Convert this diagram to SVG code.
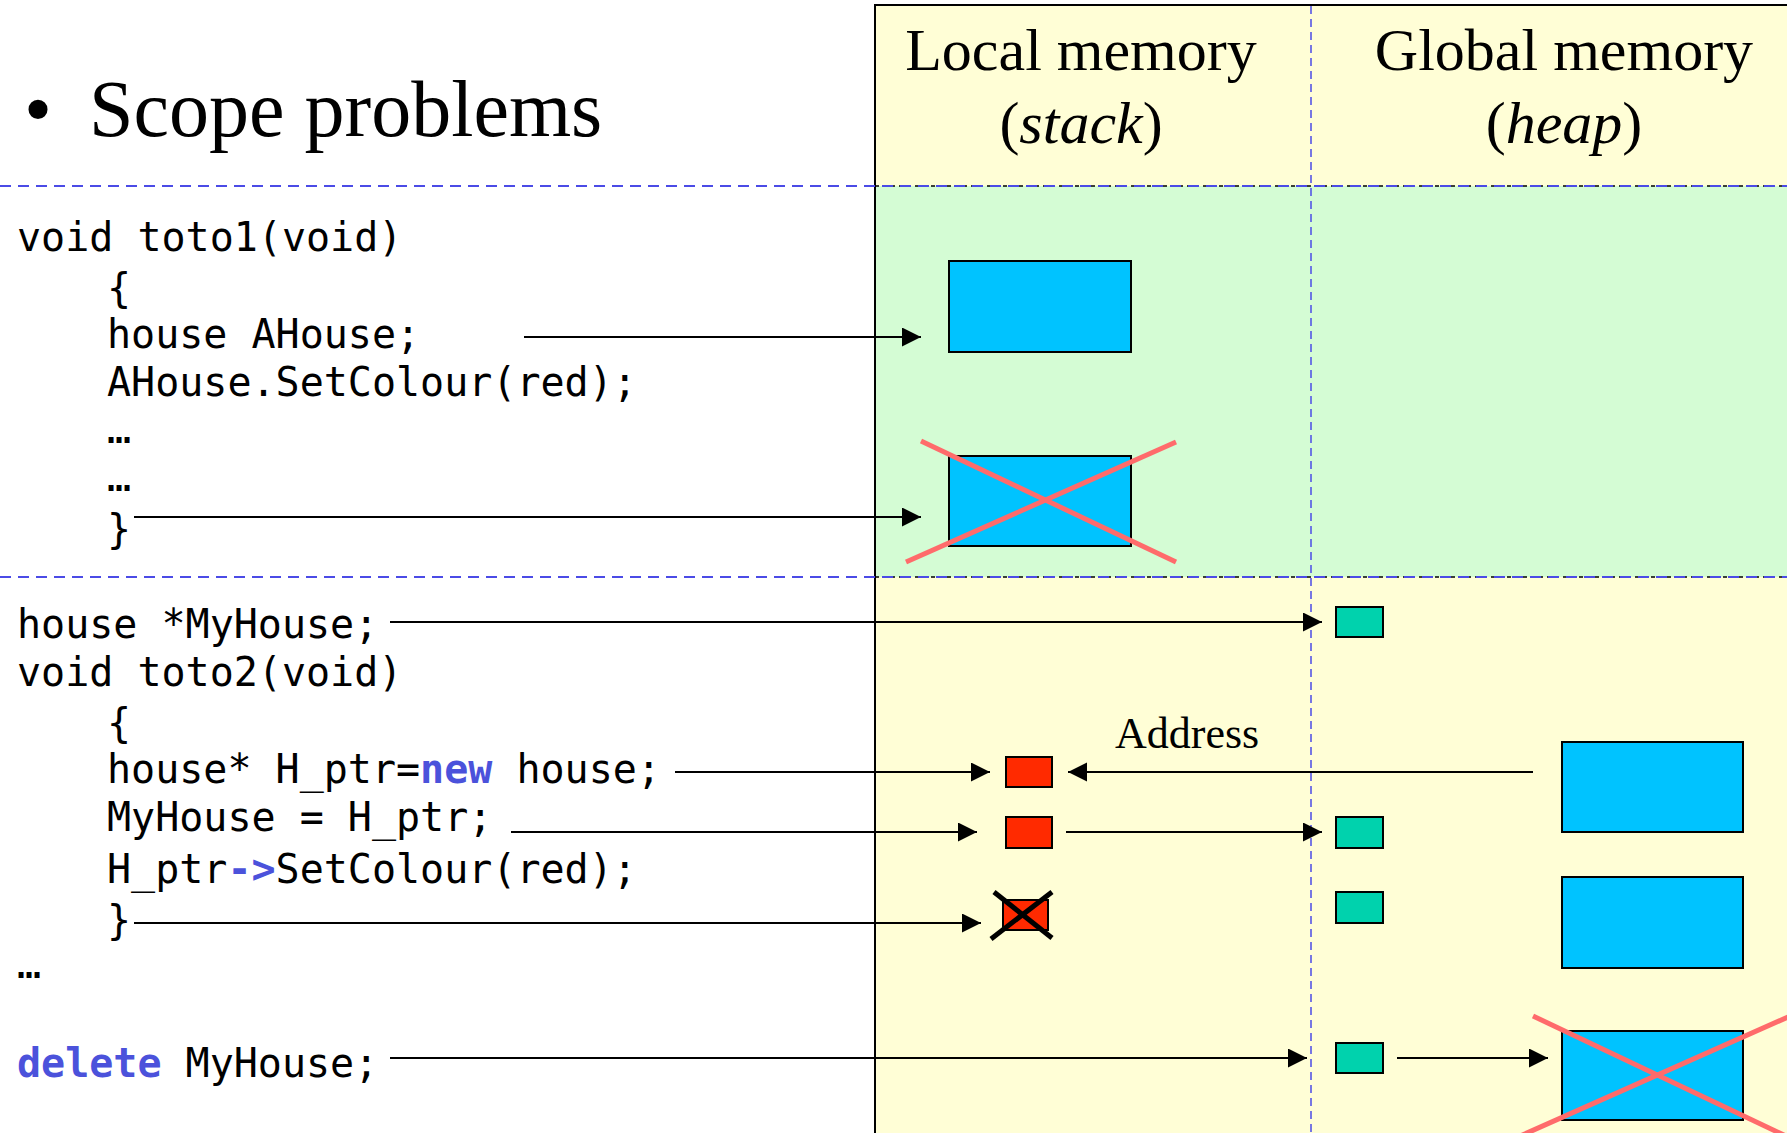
<svg xmlns="http://www.w3.org/2000/svg" width="1787" height="1133" viewBox="0 0 1787 1133">
  <defs>
    <marker id="arrow" markerUnits="userSpaceOnUse" markerWidth="20" markerHeight="20" refX="19" refY="9.5" orient="auto">
      <path d="M0,0 L19,9.5 L0,19 Z" fill="#000"/>
    </marker>
    <style>
      .title { font-family: "Liberation Serif", "Times New Roman", serif; font-size: 80px; fill: #000; }
      .head { font-family: "Liberation Serif", "Times New Roman", serif; font-size: 60px; fill: #000; text-anchor: middle; }
      .label { font-family: "Liberation Serif", "Times New Roman", serif; font-size: 44px; fill: #000; }
      .code { font-family: "DejaVu Sans Mono", "Liberation Mono", monospace; font-size: 40px; fill: #000; white-space: pre; }
      .kw { font-weight: bold; fill: #4B52DB; }
      .sep { stroke: #4B4BE6; stroke-width: 2; stroke-dasharray: 11 7; fill: none; }
      .sepv { stroke: #4B4BE6; stroke-width: 1.5; stroke-dasharray: 8 5; fill: none; }
      .edge { stroke: #000; stroke-width: 2; fill: none; marker-end: url(#arrow); }
      .obj { fill: #00C3FF; stroke: #000; stroke-width: 2; }
      .ptr { fill: #FF2A00; stroke: #000; stroke-width: 2; }
      .ref { fill: #00D2AD; stroke: #000; stroke-width: 2; }
      .gone { stroke: #FF6B6B; stroke-width: 5; fill: none; }
      .kill { stroke: #000; stroke-width: 5; fill: none; }
    </style>
  </defs>

  <rect x="0" y="0" width="1787" height="1133" fill="#FFFFFF"/>

  <!-- memory panel: header, function scope band, global band -->
  <g id="memory-panel">
    <rect x="875" y="5" width="920" height="1140" fill="#FFFED6" stroke="#000" stroke-width="2"/>
    <rect x="875" y="186" width="920" height="391" fill="#D4FCD4"/>
    <line x1="875" y1="186" x2="1787" y2="186" stroke="#000" stroke-width="1.5" stroke-dasharray="4 4"/>
    <line x1="875" y1="577" x2="1787" y2="577" stroke="#000" stroke-width="1.5" stroke-dasharray="4 4"/>
    <line x1="875" y1="5" x2="875" y2="1133" stroke="#000" stroke-width="2"/>
  </g>

  <!-- section separators -->
  <g id="separators">
    <line class="sep" x1="0" y1="186" x2="1787" y2="186"/>
    <line class="sep" x1="0" y1="577" x2="1787" y2="577"/>
    <line class="sepv" x1="1311" y1="6" x2="1311" y2="1133"/>
  </g>

  <!-- titles -->
  <g id="title">
    <text class="title" x="24" y="136">•</text>
    <text class="title" x="89" y="136">Scope problems</text>
  </g>
  <g id="local-header">
    <text class="head" x="1081" y="70">Local memory</text>
    <text class="head" x="1081" y="143">(<tspan font-style="italic">stack</tspan>)</text>
  </g>
  <g id="global-header">
    <text class="head" x="1564" y="70">Global memory</text>
    <text class="head" x="1564" y="143">(<tspan font-style="italic">heap</tspan>)</text>
  </g>

  <!-- source code: toto1 -->
  <g id="code-toto1">
    <text class="code" x="17" y="251">void toto1(void)</text>
    <text class="code" x="107" y="302">{</text>
    <text class="code" x="107" y="348">house AHouse;</text>
    <text class="code" x="107" y="396">AHouse.SetColour(red);</text>
    <text class="code" x="107" y="443">…</text>
    <text class="code" x="107" y="491">…</text>
    <text class="code" x="107" y="543">}</text>
  </g>

  <!-- source code: toto2 -->
  <g id="code-toto2">
    <text class="code" x="17" y="638">house *MyHouse;</text>
    <text class="code" x="17" y="686">void toto2(void)</text>
    <text class="code" x="107" y="737">{</text>
    <text class="code" x="107" y="783">house* H_ptr=<tspan class="kw">new</tspan> house;</text>
    <text class="code" x="107" y="831">MyHouse = H_ptr;</text>
    <text class="code" x="107" y="883">H_ptr<tspan class="kw">-&gt;</tspan>SetColour(red);</text>
    <text class="code" x="107" y="934">}</text>
    <text class="code" x="17" y="978">…</text>
    <text class="code" x="17" y="1077"><tspan class="kw">delete</tspan> MyHouse;</text>
  </g>

  <!-- stack objects -->
  <g id="stack-house">
    <rect class="obj" x="949" y="261" width="182" height="91"/>
  </g>
  <g id="stack-house-freed">
    <rect class="obj" x="949" y="456" width="182" height="90"/>
    <line class="gone" x1="921" y1="441" x2="1176" y2="562"/>
    <line class="gone" x1="906" y1="562" x2="1176" y2="442"/>
  </g>
  <g id="stack-hptr">
    <rect class="ptr" x="1006" y="757" width="46" height="30"/>
  </g>
  <g id="stack-hptr-copy">
    <rect class="ptr" x="1006" y="817" width="46" height="31"/>
  </g>
  <g id="stack-hptr-freed">
    <rect class="ptr" x="1003" y="900" width="45" height="30"/>
    <line class="kill" x1="994" y1="892" x2="1052" y2="938"/>
    <line class="kill" x1="991" y1="939" x2="1052" y2="892"/>
  </g>

  <!-- global pointer MyHouse, its states -->
  <g id="global-myhouse">
    <rect class="ref" x="1336" y="607" width="47" height="30"/>
  </g>
  <g id="global-myhouse-set">
    <rect class="ref" x="1336" y="817" width="47" height="31"/>
  </g>
  <g id="global-myhouse-kept">
    <rect class="ref" x="1336" y="892" width="47" height="31"/>
  </g>
  <g id="global-myhouse-delete">
    <rect class="ref" x="1336" y="1043" width="47" height="30"/>
  </g>

  <!-- heap objects -->
  <g id="heap-house">
    <rect class="obj" x="1562" y="742" width="181" height="90"/>
  </g>
  <g id="heap-house-kept">
    <rect class="obj" x="1562" y="877" width="181" height="91"/>
  </g>
  <g id="heap-house-freed">
    <rect class="obj" x="1562" y="1031" width="181" height="89"/>
    <line class="gone" x1="1533" y1="1016" x2="1788" y2="1137"/>
    <line class="gone" x1="1518" y1="1137" x2="1788" y2="1017"/>
  </g>

  <text id="address-label" class="label" x="1115" y="748">Address</text>

  <!-- connectors -->
  <g id="connectors">
    <line class="edge" x1="524" y1="337" x2="921" y2="337"/>
    <line class="edge" x1="134" y1="517" x2="921" y2="517"/>
    <line class="edge" x1="390" y1="622" x2="1322" y2="622"/>
    <line class="edge" x1="675" y1="772" x2="990" y2="772"/>
    <line class="edge" x1="1533" y1="772" x2="1068" y2="772"/>
    <line class="edge" x1="511" y1="832" x2="977" y2="832"/>
    <line class="edge" x1="1066" y1="832" x2="1322" y2="832"/>
    <line class="edge" x1="134" y1="923" x2="981" y2="923"/>
    <line class="edge" x1="390" y1="1058" x2="1307" y2="1058"/>
    <line class="edge" x1="1397" y1="1058" x2="1548" y2="1058"/>
  </g>
</svg>
